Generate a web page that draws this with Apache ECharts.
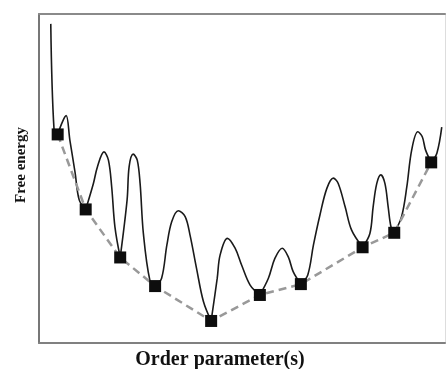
<!DOCTYPE html>
<html>
<head>
<meta charset="utf-8">
<script src="https://cdn.jsdelivr.net/npm/echarts@6/dist/echarts.min.js"></script>
<style>html,body{margin:0;padding:0;background:#fff}#c{width:446px;height:369px}</style>
</head>
<body>
<div id="c"></div>
<script>
// Free-energy landscape (arbitrary units, 0-100 on both axes).
// null in curveY separates the barriers (each barrier runs from one minimum to the next).
var curveX = [2.9, 3.7, 4.6, 4.6,
  4.6, 5.8, 6.7, 7.6, 8.9, 9.9, 11.5, 11.5,
  11.5, 13.4, 14.4, 16.0, 17.1, 17.9, 18.7, 20.0, 20.0,
  20.0, 21.7, 22.2, 23.2, 24.2, 24.9, 25.7, 27.3, 28.6, 28.6,
  28.6, 30.2, 31.5, 32.7, 34.3, 36.0, 37.2, 38.8, 40.5, 42.4, 42.4,
  42.4, 43.9, 44.6, 46.4, 48.3, 49.9, 52.0, 54.4, 54.4,
  54.4, 56.5, 58.1, 59.9, 61.4, 62.6, 64.5, 64.5,
  64.5, 66.2, 67.6, 69.2, 70.9, 72.5, 73.7, 75.4, 77.0, 79.7, 79.7,
  79.7, 81.5, 82.3, 83.2, 84.2, 85.2, 86.0, 86.7, 87.5, 87.5,
  87.5, 89.3, 90.6, 91.8, 93.3, 94.4, 95.2, 96.6, 96.6,
  96.6, 98.0, 99.2];
var curveY = [97.0, 65.0, 63.4, null,
  63.4, 67.3, 69.1, 61.7, 51.7, 43.5, 40.6, null,
  40.6, 48.5, 53.6, 58.1, 55.6, 47.5, 35.3, 26.0, null,
  26.0, 43.5, 53.6, 57.4, 55.6, 48.5, 33.4, 19.1, 17.3, null,
  17.3, 19.7, 29.8, 36.9, 40.2, 38.4, 32.8, 22.7, 12.6, 6.7, null,
  6.7, 19.7, 26.7, 31.8, 28.8, 23.7, 17.6, 14.6, null,
  14.6, 19.7, 25.7, 28.8, 26.2, 21.7, 17.9, null,
  17.9, 20.7, 29.8, 38.9, 47.0, 50.1, 48.5, 41.4, 34.3, 29.1, null,
  29.1, 33.3, 41.4, 48.5, 51.1, 48.5, 41.4, 35.3, 33.5, null,
  33.5, 38.4, 47.5, 58.7, 64.2, 62.7, 58.7, 54.9, null,
  54.9, 57.7, 65.6];
var minimaX = [4.6, 11.5, 20.0, 28.6, 42.4, 54.4, 64.5, 79.7, 87.5, 96.6];
var minimaY = [63.4, 40.6, 26.0, 17.3, 6.7, 14.6, 17.9, 29.1, 33.5, 54.9];
var xTitle = 'Order parameter(s)';
var yTitle = 'Free energy';

function zip(a, b) { return a.map(function (v, i) { return [v, b[i] === null ? '-' : b[i]]; }); }

var chart = echarts.init(document.getElementById('c'), null, {renderer: 'canvas'});
var hidden = {axisLabel: {show: false}, axisTick: {show: false}, splitLine: {show: false}};
function ax(extra) { return Object.assign({type: 'value', min: 0, max: 100}, hidden, extra); }
chart.setOption({
  animation: false,
  backgroundColor: '#ffffff',
  grid: {left: 39, right: 1, top: 14, bottom: 26},
  xAxis: [
    ax({position: 'bottom', axisLine: {show: true, onZero: false, lineStyle: {color: '#808080', width: 2}}}),
    ax({position: 'top', axisLine: {show: true, onZero: false, lineStyle: {color: '#8a8a8a', width: 2}}})
  ],
  yAxis: [
    ax({position: 'left', axisLine: {show: true, onZero: false, lineStyle: {color: '#777777', width: 2}}}),
    ax({position: 'right', axisLine: {show: true, onZero: false, lineStyle: {color: '#dddddd', width: 1}}})
  ],
  graphic: [
    {type: 'text', x: 21, y: 165, rotation: Math.PI / 2,
     style: {text: yTitle, fill: '#111', font: 'bold 15px "Liberation Serif", serif', align: 'center', verticalAlign: 'middle'}},
    {type: 'text', x: 220, y: 360,
     style: {text: xTitle, fill: '#111', font: 'bold 20px "Liberation Serif", serif', align: 'center', verticalAlign: 'middle'}}
  ],
  series: [
    {type: 'line', data: zip(curveX, curveY), showSymbol: false, symbol: 'none',
     smooth: 0.35, connectNulls: false,
     lineStyle: {color: '#1a1a1a', width: 1.6}, z: 2},
    {type: 'line', data: zip(minimaX, minimaY), symbol: 'rect', symbolSize: 12,
     itemStyle: {color: '#0d0d0d'},
     lineStyle: {color: '#999999', width: 2.5, type: [8, 5]}, z: 3}
  ]
});
</script>
</body>
</html>
